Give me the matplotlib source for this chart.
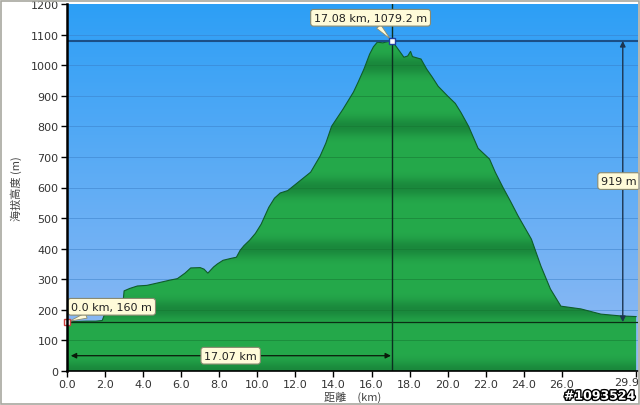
import numpy as np
import matplotlib
matplotlib.use('Agg')
import matplotlib.pyplot as plt
from matplotlib.patches import Polygon, Rectangle
import matplotlib.patheffects as pe

# elevation profile (km, m)
dist_km = [0.0, 0.5, 1.0, 1.5, 1.85, 2.0, 2.5, 2.9, 3.0, 3.3, 3.7, 4.2, 4.7, 5.4, 5.8,
           6.2, 6.5, 7.0, 7.2, 7.4, 7.7, 7.9, 8.2, 8.6, 8.9, 9.1, 9.3, 9.6, 9.9, 10.2,
           10.6, 10.9, 11.2, 11.6, 11.9, 12.3, 12.8, 13.3, 13.6, 13.9, 14.2, 14.5, 15.05,
           15.3, 15.6, 15.9, 16.1, 16.3, 16.6, 16.9, 17.08, 17.4, 17.7, 17.9, 18.05, 18.15,
           18.6, 18.9, 19.2, 19.5, 20.0, 20.4, 20.7, 21.1, 21.6, 22.2, 22.5, 22.9, 23.3,
           23.7, 24.4, 24.9, 25.4, 25.95, 27.0, 28.05, 29.1, 29.9]
elev_m = [160, 162, 163, 163, 165, 190, 192, 195, 262, 270, 278, 280, 287, 297, 302,
          320, 337, 338, 333, 320, 340, 350, 362, 368, 372, 395, 410, 428, 450, 480,
          535, 565, 582, 590, 605, 625, 650, 703, 745, 800, 828, 856, 912,
          945, 987, 1036, 1060, 1075, 1073, 1078, 1079.2, 1052, 1026, 1030, 1045, 1028,
          1020, 987, 960, 931, 899, 875, 845, 800, 728, 693, 650, 601, 555,
          507, 431, 343, 268, 212, 203, 186, 180, 178]

peak_km, peak_m = 17.08, 1079.2
start_km, start_m = 0.0, 160
climb_m = 919
peak_dist = 17.07

xticks = [0, 2, 4, 6, 8, 10, 12, 14, 16, 18, 20, 22, 24, 26, 29.9]
xlabels = ['0.0', '2.0', '4.0', '6.0', '8.0', '10.0', '12.0', '14.0', '16.0', '18.0',
           '20.0', '22.0', '24.0', '26.0', '29.9']
yticks = list(range(0, 1300, 100))

cjk = ['Noto Sans CJK TC', 'DejaVu Sans']
cream = '#FFFBD9'

fig = plt.figure(figsize=(6.4, 4.06), dpi=100)
ax = fig.add_axes([67 / 640, 34 / 406, 571 / 640, 367 / 406])
xmax = 30.0
ax.set_xlim(0, xmax)
ax.set_ylim(0, 1200)

# blue sky gradient
t = np.linspace(0, 1, 256)[:, None]
top = np.array([0x2D, 0x9F, 0xF6]) / 255
bot = np.array([0x95, 0xBB, 0xF3]) / 255
sky = top[None, None, :] * (1 - t[..., None]) + bot[None, None, :] * t[..., None]
ax.imshow(sky, extent=[0, xmax, 0, 1200], aspect='auto', origin='upper', zorder=0)
for y in yticks[1:-1]:
    ax.axhline(y, color='#3A7FC8', lw=0.6, alpha=0.6, zorder=1)

# green banded fill
yy = np.linspace(1200, 0, 600)
f = 0.5 + 0.5 * np.cos(2 * np.pi * (yy - 400) / 200)
light = np.array([0x25, 0xA9, 0x4B]) / 255
dark = np.array([0x1A, 0x88, 0x3C]) / 255
band = light[None, :] * (1 - f[:, None] ** 4) + dark[None, :] * f[:, None] ** 4
green = np.repeat(band[:, None, :], 2, axis=1)
im = ax.imshow(green, extent=[0, xmax, 0, 1200], aspect='auto', origin='upper', zorder=2)
poly = Polygon(list(zip(dist_km, elev_m)) + [(dist_km[-1], 0), (0, 0)],
               closed=True, transform=ax.transData)
im.set_clip_path(poly)
for y in yticks[1:-1]:
    clip_line = ax.axhline(y, color='#157532', lw=0.6, alpha=0.6, zorder=3)
    clip_line.set_clip_path(poly)
ax.plot(dist_km, elev_m, color='#0F5C2A', lw=0.8, zorder=4)

# guide lines
ax.axhline(peak_m, color='#1B4F86', lw=1.5, zorder=5)
ax.axhline(start_m, color='#0B2E14', lw=0.9, zorder=5)
ax.axvline(peak_km, color='#0B3020', lw=1.0, zorder=5)

ax.annotate('', xy=(29.2, peak_m), xytext=(29.2, start_m),
            arrowprops=dict(arrowstyle='<|-|>', color='#1C3550', lw=1.0,
                            mutation_scale=8, shrinkA=0, shrinkB=0), zorder=6)
ax.annotate('', xy=(0.2, 50), xytext=(peak_dist - 0.05, 50),
            arrowprops=dict(arrowstyle='<|-|>', color='#0A1A0A', lw=0.9,
                            mutation_scale=8, shrinkA=0, shrinkB=0), zorder=6)

box = dict(boxstyle='round,pad=0.3,rounding_size=0.25', fc=cream, ec='#8A8A70', lw=0.8)
ax.text(29.0, 621, f'{climb_m} m', fontsize=8, ha='center', va='center', color='#222222',
        bbox=box, zorder=7)
ax.text(8.6, 50, f'{peak_dist:.2f} km', fontsize=8, ha='center', va='center', color='#222222',
        bbox=box, zorder=7)
ax.annotate(f'{peak_km:.2f} km, {peak_m:.1f} m', xy=(peak_km, peak_m), xytext=(15.95, 1155),
            fontsize=8, ha='center', va='center', color='#222222', bbox=box,
            arrowprops=dict(arrowstyle='wedge,tail_width=0.5', fc=cream, ec='#8A8A70',
                            lw=0.6, shrinkA=0, shrinkB=2), zorder=8)
ax.annotate(f'{start_km:.1f} km, {start_m} m', xy=(start_km, start_m), xytext=(2.35, 210),
            fontsize=8, ha='center', va='center', color='#222222', bbox=box,
            arrowprops=dict(arrowstyle='wedge,tail_width=0.5', fc=cream, ec='#8A8A70',
                            lw=0.6, shrinkA=0, shrinkB=2), zorder=8)
ax.plot([peak_km], [peak_m], marker='s', ms=4, mfc='white', mec='#2040A0', mew=1.0,
        zorder=9, clip_on=False)
ax.plot([start_km], [start_m], marker='s', ms=4, mfc='white', mec='#D04040', mew=1.0,
        zorder=9, clip_on=False)

# last tick label would run off the edge, so draw it by hand a bit to the left
ax.set_xticks(xticks)
ax.set_xticklabels(xlabels[:-1] + [''])
ax.annotate(xlabels[-1], xy=(xticks[-1], 0), xycoords=('data', 'axes fraction'),
            xytext=(-9, -6), textcoords='offset pixels', ha='center', va='top',
            fontsize=8, color='#333333')
ax.set_yticks(yticks)
ax.tick_params(axis='both', labelsize=8, labelcolor='#333333', length=4, width=1,
               color='black', direction='out', pad=2)
for side in ['top', 'right']:
    ax.spines[side].set_visible(False)
ax.spines['left'].set_linewidth(1.8)
ax.spines['bottom'].set_linewidth(1.2)
ax.spines['left'].set_zorder(10)
ax.spines['bottom'].set_zorder(10)

ax.set_ylabel('海拔高度 (m)', family=cjk, fontsize=8, color='#444444', labelpad=6)
ax.set_xlabel('距離　(km)', family=cjk, fontsize=8, color='#444444', labelpad=1)

fig.text(0.937, 0.022, '#1093524', fontsize=9, fontweight='bold', color='white',
         ha='center', va='center',
         path_effects=[pe.withStroke(linewidth=2, foreground='black')])
fig.patches.append(Rectangle((0.002, 0.003), 0.996, 0.993, transform=fig.transFigure,
                             fill=False, ec='#A8A8A0', lw=1.2))

fig.savefig('out.png', dpi=100)
